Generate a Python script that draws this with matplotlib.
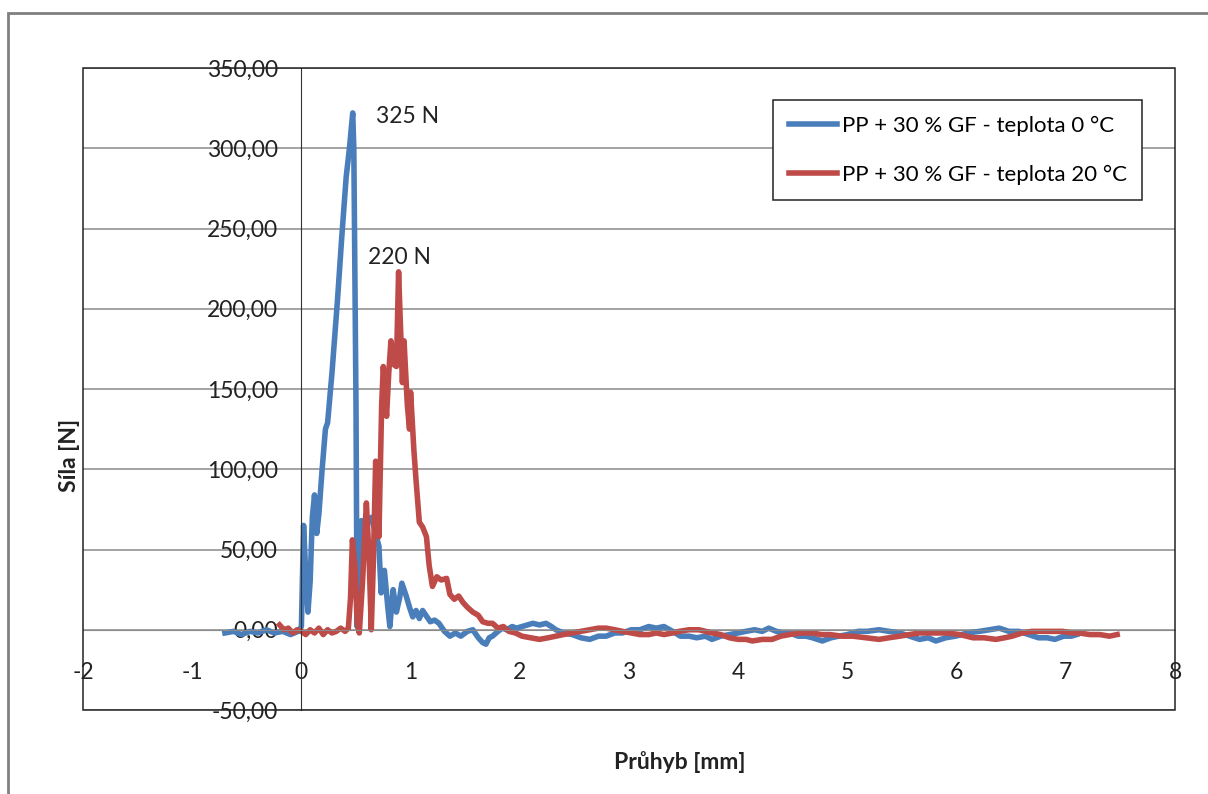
import matplotlib
matplotlib.use("Agg")
import matplotlib.pyplot as plt
from matplotlib.patches import Rectangle

plt.rcParams['font.family'] = ['Lato', 'DejaVu Sans']

# Průhyb [mm] / Síla [N] - PP + 30 % GF, teplota 0 °C
blue_x = [-0.70, -0.62, -0.55, -0.47, -0.40, -0.32, -0.25, -0.17, -0.10, -0.03,
          0.00, 0.02, 0.04, 0.06, 0.08, 0.10, 0.12, 0.14, 0.16, 0.19,
          0.22, 0.24, 0.28, 0.33, 0.37, 0.41, 0.44, 0.47, 0.48, 0.50,
          0.51, 0.53, 0.55, 0.60, 0.64, 0.68, 0.71, 0.73, 0.76, 0.79,
          0.81, 0.84, 0.87, 0.90, 0.92, 0.96, 0.99, 1.02, 1.05, 1.08,
          1.11, 1.14, 1.18, 1.22, 1.26, 1.31, 1.36, 1.41, 1.46, 1.52,
          1.57, 1.62, 1.66, 1.69, 1.72, 1.75, 1.80, 1.84, 1.88, 1.93,
          1.97, 2.02, 2.07, 2.12, 2.18, 2.24, 2.29, 2.33, 2.40, 2.48,
          2.56, 2.64, 2.72, 2.79, 2.87, 2.94, 3.02, 3.10, 3.18, 3.25,
          3.32, 3.40, 3.47, 3.55, 3.62, 3.70, 3.76, 3.84, 3.92, 4.00,
          4.07, 4.15, 4.22, 4.28, 4.35, 4.41, 4.47, 4.55, 4.62, 4.68,
          4.77, 4.85, 4.92, 5.00, 5.10, 5.18, 5.29, 5.38, 5.48, 5.57,
          5.66, 5.74, 5.81, 5.90, 5.99, 6.10, 6.21, 6.30, 6.39, 6.48,
          6.57, 6.66, 6.75, 6.83, 6.90, 6.98, 7.05, 7.10]
blue_y = [-2, -1, -3, -1, -2, 0, -2, -1, -3, -1,
          2, 65, 35, 11, 30, 70, 84, 60, 72, 100,
          125, 129, 160, 205, 245, 282, 300, 322, 300, 140,
          2, 30, 68, 66, 70, 60, 52, 23, 37, 15,
          2, 25, 11, 20, 29, 21, 14, 8, 12, 7,
          12, 9, 5, 6, 4, -1, -4, -2, -4, -1,
          0, -5, -8, -9, -5, -4, -1, 1, 0, 2,
          1, 2, 3, 4, 3, 4, 2, 0, -2, -3,
          -5, -6, -4, -4, -2, -2, 0, 0, 2, 1,
          2, -1, -4, -4, -5, -4, -6, -4, -3, -2,
          -1, 0, -1, 1, -1, -2, -2, -4, -4, -5,
          -7, -5, -4, -3, -1, -1, 0, -1, -2, -4,
          -6, -5, -7, -5, -4, -2, -1, 0, 1, -1,
          -1, -3, -5, -5, -6, -4, -4, -3]

# PP + 30 % GF, teplota 20 °C
red_x = [-0.20, -0.16, -0.12, -0.08, -0.04, 0.00, 0.04, 0.08, 0.12, 0.16,
         0.20, 0.24, 0.28, 0.32, 0.36, 0.40, 0.43, 0.45, 0.467, 0.49,
         0.51, 0.53, 0.56, 0.595, 0.62, 0.64, 0.66, 0.68, 0.71, 0.735,
         0.75, 0.78, 0.80, 0.82, 0.85, 0.87, 0.89, 0.925, 0.94, 0.97,
         0.99, 1.00, 1.03, 1.05, 1.08, 1.11, 1.145, 1.17, 1.20, 1.24,
         1.28, 1.33, 1.36, 1.40, 1.44, 1.48, 1.52, 1.57, 1.62, 1.66,
         1.71, 1.75, 1.80, 1.85, 1.90, 1.96, 2.02, 2.10, 2.18, 2.26,
         2.33, 2.40, 2.48, 2.56, 2.64, 2.72, 2.79, 2.87, 2.94, 3.02,
         3.10, 3.18, 3.25, 3.32, 3.40, 3.46, 3.55, 3.64, 3.70, 3.76,
         3.84, 3.92, 4.00, 4.07, 4.13, 4.22, 4.31, 4.39, 4.47, 4.57,
         4.68, 4.76, 4.84, 4.95, 5.05, 5.17, 5.29, 5.38, 5.48, 5.57,
         5.66, 5.78, 5.91, 6.03, 6.15, 6.25, 6.36, 6.44, 6.51, 6.60,
         6.69, 6.83, 6.97, 7.05, 7.12, 7.22, 7.31, 7.40, 7.47]
red_y = [3, 0, 1, -2, 0, -1, -3, 0, -2, 1,
         -3, 0, -2, -1, 1, -1, 1, 20, 56, 40,
         5, -2, 30, 79, 45, 0, 45, 105, 58, 140,
         164, 133, 160, 180, 165, 164, 223, 154, 180, 140,
         125, 148, 112, 93, 67, 64, 58, 40, 27, 33,
         31, 32, 22, 19, 21, 17, 14, 11, 9, 5,
         4, 4, 1, 2, -1, -2, -4, -5, -6, -5,
         -4, -3, -2, -1, 0, 1, 1, 0, -1, -2,
         -3, -3, -2, -3, -2, -1, 0, 0, -1, -2,
         -3, -5, -6, -6, -7, -6, -6, -4, -3, -2,
         -2, -3, -3, -4, -4, -5, -6, -5, -4, -3,
         -2, -2, -2, -3, -5, -5, -6, -5, -4, -2,
         -1, -1, -1, -2, -2, -3, -3, -4, -3]

labels = ['PP + 30 % GF - teplota 0 °C', 'PP + 30 % GF - teplota 20 °C']
x_ticks = [-2, -1, 0, 1, 2, 3, 4, 5, 6, 7, 8]
y_ticks = [-50, 0, 50, 100, 150, 200, 250, 300, 350]

W, H = 1208, 794
fs = 16.5
fig = plt.figure(figsize=(W / 100, H / 100), dpi=100)
ax = fig.add_axes([83 / W, 1 - 710 / H, (1175 - 83) / W, (710 - 68) / H])

ax.plot(blue_x, blue_y, color='#4a7ebb', lw=4.0, label=labels[0], solid_joinstyle='round')
ax.plot(red_x, red_y, color='#be4b48', lw=4.0, label=labels[1], solid_joinstyle='round')

ax.set_xlim(-2, 8)
ax.set_ylim(-50, 350)
ax.set_xticks(x_ticks)
ax.set_yticks(y_ticks)
ax.set_xticklabels([str(v) for v in x_ticks])
ax.set_yticklabels([f"{v:.2f}".replace('.', ',') for v in y_ticks])
ax.tick_params(axis='y', length=0, pad=17, labelsize=fs, colors='#222222')
ax.tick_params(axis='x', length=0, pad=23, labelsize=fs, colors='#222222')

ax.yaxis.grid(True, color='#8a8a8a', lw=1.1)
ax.set_axisbelow(True)

ax.spines['left'].set_position(('data', 0))
ax.spines['left'].set_color('#333333')
ax.spines['bottom'].set_position(('data', 0))
ax.spines['bottom'].set_color('#8a8a8a')
ax.spines['top'].set_visible(False)
ax.spines['right'].set_visible(False)
ax.add_patch(Rectangle((0, 0), 1, 1, transform=ax.transAxes, fill=False,
                       ec='#222222', lw=1.1, clip_on=False, zorder=5))

ax.text(0.97, 320, '325 N', ha='center', va='center', fontsize=fs, color='#222222')
ax.text(0.90, 232, '220 N', ha='center', va='center', fontsize=fs, color='#222222')

leg = ax.legend(loc='upper left', bbox_to_anchor=(773 / W, 1 - 100 / H),
                bbox_transform=fig.transFigure, borderaxespad=0, fancybox=False,
                edgecolor='#222222', framealpha=1, fontsize=16,
                handlelength=2.2, labelspacing=1.3, borderpad=0.7, handletextpad=0.2)
leg.get_frame().set_linewidth(1.1)

fig.text(680 / W, 1 - 762 / H, 'Průhyb [mm]', ha='center', va='center',
         fontsize=fs, fontweight='bold', color='#222222')
fig.text(70 / W, 1 - 455 / H, 'Síla [N]', ha='center', va='center', rotation=90,
         fontsize=fs, fontweight='bold', color='#222222')

# outer chart frame
fig.add_artist(Rectangle((8 / W, -0.1), 1.2, 1 - 13 / H + 0.1, transform=fig.transFigure,
                         fill=False, ec='#808080', lw=2))

fig.savefig('out.png', dpi=100)
